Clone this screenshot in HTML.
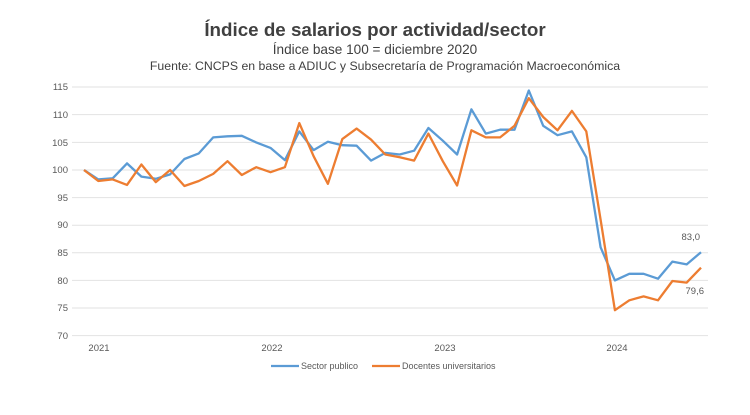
<!DOCTYPE html>
<html><head><meta charset="utf-8"><style>
body{margin:0;background:#fff;width:750px;height:410px;overflow:hidden;font-family:"Liberation Sans",sans-serif}
</style></head><body>
<svg width="750" height="410" xmlns="http://www.w3.org/2000/svg" font-family="Liberation Sans, sans-serif">
<text x="375" y="36" text-anchor="middle" font-size="18.8" font-weight="bold" fill="#404040">Índice de salarios por actividad/sector</text>
<text x="375" y="54" text-anchor="middle" font-size="13.6" fill="#404040">Índice base 100 = diciembre 2020</text>
<text x="385" y="70" text-anchor="middle" font-size="12.3" fill="#404040">Fuente: CNCPS en base a ADIUC y Subsecretaría de Programación Macroeconómica</text>
<g stroke="#e2e2e2" stroke-width="1">
<line x1="72" x2="708" y1="87" y2="87"/><line x1="72" x2="708" y1="114.6" y2="114.6"/><line x1="72" x2="708" y1="142.4" y2="142.4"/><line x1="72" x2="708" y1="170" y2="170"/><line x1="72" x2="708" y1="197.6" y2="197.6"/><line x1="72" x2="708" y1="225.2" y2="225.2"/><line x1="72" x2="708" y1="252.8" y2="252.8"/><line x1="72" x2="708" y1="280.4" y2="280.4"/><line x1="72" x2="708" y1="308" y2="308"/><line x1="72" x2="708" y1="335.6" y2="335.6"/>
</g>
<g font-size="9.5" fill="#595959" text-anchor="end">
<text x="68" y="90">115</text><text x="68" y="118">110</text><text x="68" y="146">105</text><text x="68" y="173">100</text><text x="68" y="201">95</text><text x="68" y="228">90</text><text x="68" y="256">85</text><text x="68" y="284">80</text><text x="68" y="311">75</text><text x="68" y="339">70</text>
</g>
<g font-size="9.5" fill="#595959" text-anchor="middle">
<text x="99" y="351">2021</text><text x="272" y="351">2022</text><text x="445" y="351">2023</text><text x="617" y="351">2024</text>
</g>
<polyline id="b" fill="none" stroke="#5b9bd5" stroke-width="2.3" stroke-linejoin="round" points=""/>
<polyline id="o" fill="none" stroke="#ed7d31" stroke-width="2.3" stroke-linejoin="round" points=""/>
<text x="700" y="240" text-anchor="end" font-size="9.5" fill="#595959">83,0</text>
<text x="704" y="294" text-anchor="end" font-size="9.5" fill="#595959">79,6</text>
<line x1="271" x2="299" y1="366" y2="366" stroke="#5b9bd5" stroke-width="2.3"/>
<text x="301" y="369" font-size="9" fill="#595959">Sector publico</text>
<line x1="372" x2="400" y1="366" y2="366" stroke="#ed7d31" stroke-width="2.3"/>
<text x="402" y="369" font-size="9" fill="#595959">Docentes universitarios</text>
</svg>
<script>
var B=[100,98.3,98.5,101.2,98.8,98.4,99.2,102,103,105.9,106.1,106.2,105,104,101.8,107,103.6,105.1,104.5,104.4,101.7,103.1,102.8,103.5,107.6,105.3,102.8,111,106.6,107.3,107.3,114.4,108,106.3,107,102.3,86,80,81.2,81.2,80.3,83.4,82.9,85.1];
var O=[100,98,98.3,97.3,101,97.8,100,97.1,98,99.3,101.6,99.1,100.5,99.6,100.5,108.5,102.5,97.5,105.6,107.5,105.5,102.8,102.3,101.7,106.6,101.6,97.2,107.2,105.9,105.9,108,113,109.6,107.2,110.7,107,91,74.6,76.4,77.1,76.4,79.9,79.6,82.3];
function p(a){return a.map(function(v,i){return (84+i*14.35).toFixed(1)+','+(170-(v-100)*5.52).toFixed(1)}).join(' ')}
document.getElementById('b').setAttribute('points',p(B));
document.getElementById('o').setAttribute('points',p(O));
</script>
</body></html>
